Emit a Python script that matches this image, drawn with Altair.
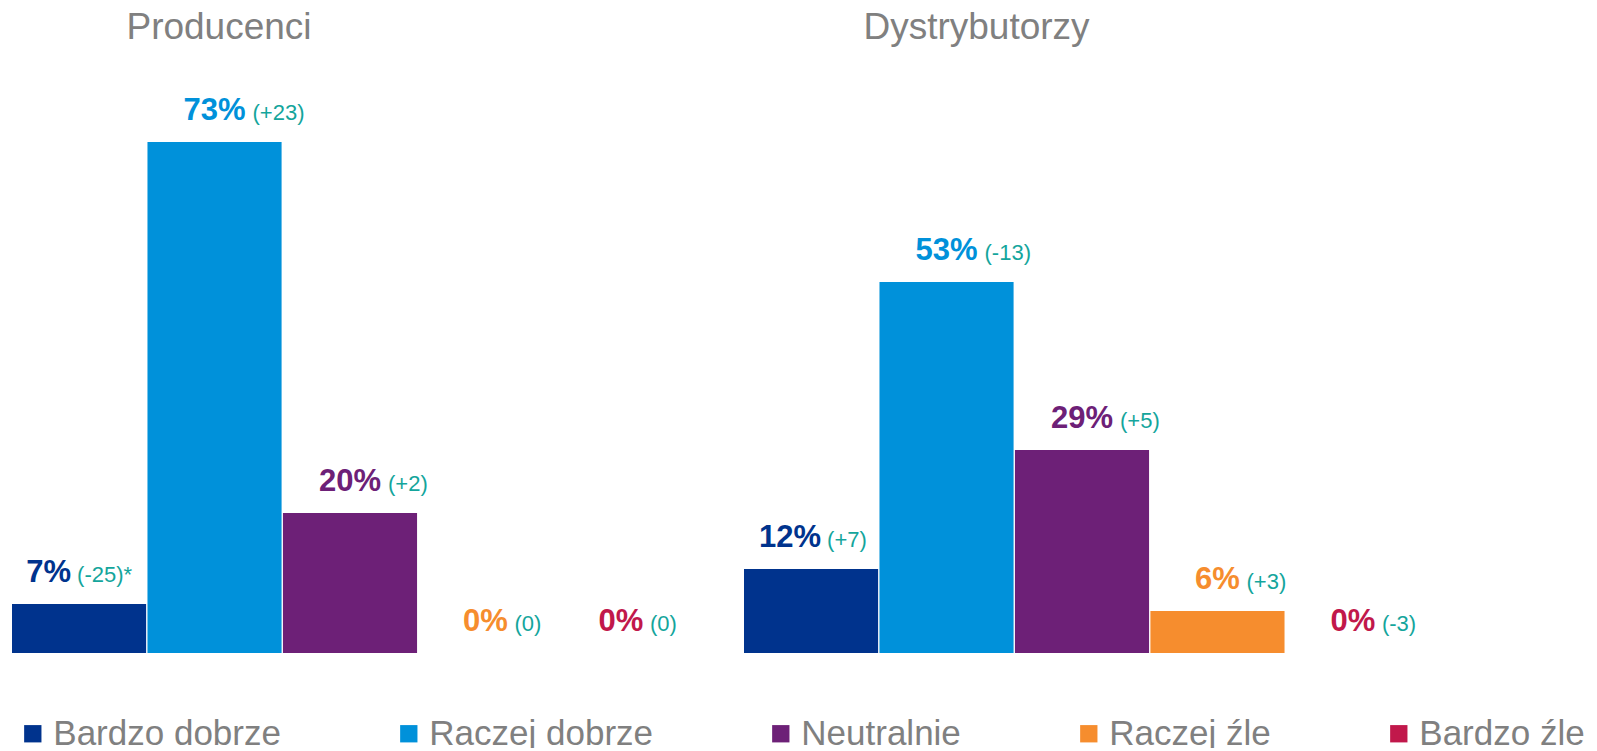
import altair as alt
import pandas as pd

groups = ["Producenci", "Dystrybutorzy"]
categories = ["Bardzo dobrze", "Raczej dobrze", "Neutralnie", "Raczej źle", "Bardzo źle"]
colors = ["#00338D", "#0091DA", "#6D2077", "#F68D2E", "#C1184B"]
producenci_values = [7, 73, 20, 0, 0]
producenci_changes = ["(-25)*", "(+23)", "(+2)", "(0)", "(0)"]
dystrybutorzy_values = [12, 53, 29, 6, 0]
dystrybutorzy_changes = ["(+7)", "(-13)", "(+5)", "(+3)", "(-3)"]

FONT = "Liberation Sans"
TEAL = "#14A59C"
GRAY = "#808080"


def panel(title, values, changes, title_dx):
    # a label moves left when the next bar is taller (it would collide)
    nxt = values[1:] + [0]
    df = pd.DataFrame({
        "cat": categories,
        "value": values,
        "label": [f"{v}%" for v in values],
        "change": changes,
        "shift": [n > v for v, n in zip(values, nxt)],
    })
    base = alt.Chart(df)
    x = alt.X("cat:N", sort=categories, axis=None,
              scale=alt.Scale(paddingInner=0.01, paddingOuter=0))
    y = alt.Y("value:Q", axis=None, scale=alt.Scale(domain=[0, 80]))
    color_scale = alt.Scale(domain=categories, range=colors)
    bars = base.mark_bar().encode(
        x=x, y=y,
        color=alt.Color("cat:N", scale=color_scale, sort=categories,
                        legend=alt.Legend(title=None)),
    )
    vstyle = dict(baseline="alphabetic", dy=-22, font=FONT, fontSize=31,
                  fontWeight="bold")
    cstyle = dict(baseline="alphabetic", dy=-22, font=FONT, fontSize=22,
                  color=TEAL, align="left")
    vcol = alt.Color("cat:N", scale=color_scale, legend=None)

    def vt(flt, **kw):
        return base.transform_filter(flt).mark_text(**vstyle, **kw).encode(
            x=x, y=y, text="label:N", color=vcol)

    def ct(flt, dx):
        return base.transform_filter(flt).mark_text(dx=dx, **cstyle).encode(
            x=x, y=y, text="change:N")

    layers = [
        bars,
        vt("!datum.shift", align="center"),
        vt("datum.shift && datum.value >= 10", align="right", dx=10),
        vt("datum.shift && datum.value < 10", align="right", dx=-8),
        ct("!datum.shift && datum.value >= 10", 38),
        ct("!datum.shift && datum.value < 10", 29),
        ct("datum.shift && datum.value >= 10", 16),
        ct("datum.shift && datum.value < 10", -2),
    ]
    return alt.layer(*layers).properties(
        width=676, height=560,
        title=alt.TitleParams(title, fontSize=37, font=FONT, color=GRAY,
                              fontWeight="normal", anchor="middle", dx=title_dx,
                              baseline="alphabetic", offset=17.4),
    )


chart = alt.hconcat(
    panel(groups[0], producenci_values, producenci_changes, -131),
    panel(groups[1], dystrybutorzy_values, dystrybutorzy_changes, -105.5),
    spacing=56,
).resolve_scale(color="shared").properties(
    padding={"left": 4, "top": 0, "right": 0, "bottom": -4}
).configure_view(stroke=None).configure_legend(
    orient="none", direction="horizontal", legendX=3.3, legendY=623,
    symbolType="square", symbolSize=300, symbolStrokeWidth=0,
    labelFont=FONT, labelFontSize=35, labelColor=GRAY, labelOffset=3,
    columnPadding=110, padding=0, labelLimit=400,
)

chart.save("out.html", embed_options={"renderer": "svg", "actions": False})
